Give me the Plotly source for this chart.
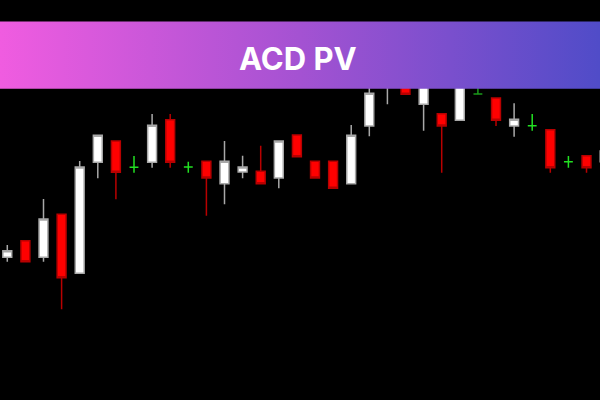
import plotly.graph_objects as go

# ---- data (price units) ----
idx = list(range(34))
open_ = [142.7, 159.3, 142.7, 185.7, 126.7, 237.7, 259.0, 232.7, 237.7, 280.3,
         233.0, 238.7, 216.3, 228.0, 228.7, 222.0, 265.0, 238.7, 238.7, 216.3,
         274.0, 318.0, 330.0, 295.7, 286.3, 279.7, 306.0, 302.0, 274.0, 274.3,
         270.3, 238.3, 244.3, 238.3]
high_ = [155.0, 159.3, 201.0, 185.7, 239.0, 264.7, 259.0, 244.0, 286.0, 286.0,
         238.3, 238.7, 259.0, 244.3, 254.3, 259.0, 265.0, 238.7, 238.7, 275.0,
         315.0, 345.0, 335.0, 330.0, 286.3, 325.0, 318.0, 302.0, 296.7, 286.0,
         270.3, 244.0, 244.3, 249.0]
low_ = [138.3, 138.3, 138.3, 90.7, 126.7, 221.7, 200.7, 227.3, 232.3, 232.3,
        227.3, 184.3, 195.7, 221.7, 216.3, 211.7, 243.3, 222.0, 211.7, 216.3,
        263.7, 295.7, 305.7, 269.3, 227.3, 279.7, 306.0, 274.0, 263.3, 269.3,
        227.3, 232.3, 227.3, 238.3]
close_ = [149.3, 138.3, 181.0, 122.3, 233.0, 264.7, 227.7, 232.7, 274.7, 237.7,
          233.0, 222.0, 238.7, 233.0, 216.3, 259.0, 243.3, 222.0, 211.7, 264.7,
          306.7, 340.0, 305.7, 325.0, 274.0, 320.0, 306.0, 279.7, 280.7, 274.3,
          232.3, 238.3, 232.3, 249.0]
dark_doji = [26]
title_text = "ACD PV"


def pick(sel):
    ii = [i for i in idx if sel(i)]
    return dict(x=ii, open=[open_[i] for i in ii], high=[high_[i] for i in ii],
                low=[low_[i] for i in ii], close=[close_[i] for i in ii])


up = pick(lambda i: close_[i] > open_[i])
down = pick(lambda i: close_[i] < open_[i])
doji = pick(lambda i: close_[i] == open_[i] and i not in dark_doji)
doji2 = pick(lambda i: close_[i] == open_[i] and i in dark_doji)

fig = go.Figure()


def candle(d, line_col, fill_col):
    fig.add_trace(go.Candlestick(
        **d,
        increasing=dict(line=dict(color=line_col, width=1.5), fillcolor=fill_col),
        decreasing=dict(line=dict(color=line_col, width=1.5), fillcolor=fill_col),
        whiskerwidth=0, hoverinfo="skip"))


candle(up, "#a8a8a8", "#ffffff")
candle(down, "#b80000", "#ff0000")
candle(doji, "#22e022", "#22e022")
candle(doji2, "#1a9a1a", "#1a9a1a")

# gradient banner on an overlay axis pair (0..1)
fig.add_trace(go.Scatter(
    x=[0, 1, 1, 0, 0], y=[0.778, 0.778, 0.946, 0.946, 0.778],
    xaxis="x2", yaxis="y2", mode="lines", line=dict(width=0),
    fill="toself",
    fillgradient=dict(type="horizontal",
                      colorscale=[[0, "#f05ce0"], [0.5, "#a452d2"], [1, "#504cc8"]]),
    hoverinfo="skip"))

fig.add_annotation(
    text=f"<b>{title_text}</b>", xref="paper", yref="paper", x=0.497, y=0.8525,
    xanchor="center", yanchor="middle", showarrow=False,
    font=dict(family="Inter, Lato, sans-serif", size=31, color="#ffffff"))

fig.update_layout(
    width=600, height=400, margin=dict(l=0, r=0, t=0, b=0),
    paper_bgcolor="#000000", plot_bgcolor="#000000", showlegend=False,
    boxgap=0.3,
    xaxis=dict(range=[-0.403, 32.745], visible=False, rangeslider=dict(visible=False)),
    yaxis=dict(range=[0, 400], visible=False),
    xaxis2=dict(range=[0, 1], overlaying="x", anchor="y2", visible=False),
    yaxis2=dict(range=[0, 1], overlaying="y", anchor="x2", visible=False),
)

fig.write_html(
    "out.html",
    config={"displayModeBar": False},
    post_script="document.body.style.margin='0';document.body.style.background='#000';"
                "document.body.style.overflow='hidden';")
